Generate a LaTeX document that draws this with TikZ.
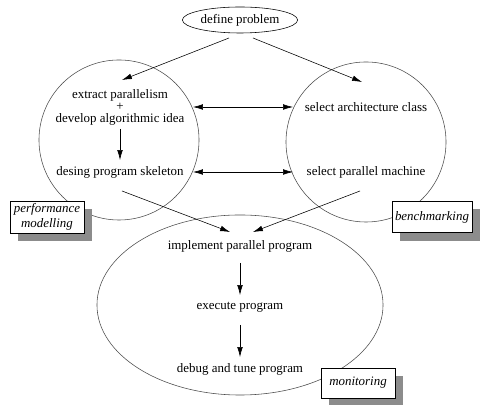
\documentclass[tikz,border=0pt]{standalone}
\usepackage{fontspec}
\setmainfont{Liberation Serif}
\usetikzlibrary{shapes,arrows.meta,positioning,calc,shadows}

\begin{document}
\begin{tikzpicture}[x=0.025cm, y=0.025cm, font=\fontsize{9.2}{11}\selectfont,
    arr/.style={-{Latex[length=7pt,width=4pt]}},
    dbl/.style={{Latex[length=7pt,width=4pt]}-{Latex[length=7pt,width=4pt]}},
    region/.style={draw=black!70, thin},
    tag/.style={draw, fill=white, inner sep=1pt, align=center, font=\fontsize{9.2}{10.5}\selectfont\itshape,
        drop shadow={shadow xshift=0.2cm, shadow yshift=-0.2cm, fill=black!45, opacity=1}}]
    \useasboundingbox (0,0) rectangle (480,405);

    % the three regions
    \node (design) [region, circle, minimum size=4cm] at (119,265) {};
    \node (machines) [region, circle, minimum size=4cm] at (366,263) {};
    \node (program) [region, ellipse, minimum width=7.15cm, minimum height=4.5cm] at (240,100) {};

    \node (define) [draw, ellipse, minimum width=2.5cm, minimum height=0.65cm, inner sep=1pt] at (240,385) {define problem};
    \node (extract) [align=center] at (120,298) {extract parallelism\\[-2.5pt]+\\[-2.5pt]develop algorithmic idea};
    \node (skeleton) at (120,233) {desing program skeleton};
    \node (arch) at (366,298) {select architecture class};
    \node (machine) at (366,233) {select parallel machine};
    \node (implement) at (240,159) {implement parallel program};
    \node (execute) at (240,98) {execute program};
    \node (debug) at (240,36) {debug and tune program};

    % labels
    \node (perf) [tag, minimum width=1.85cm, minimum height=0.8cm] at (47,188) {performance\\modelling};
    \node (bench) [tag, minimum width=2cm, minimum height=0.78cm] at (432,188) {benchmarking};
    \node (monitor) [tag, minimum width=1.85cm, minimum height=0.75cm] at (358,22) {monitoring};

    \draw [arr] ($(define)+(-11,-18)$) -- ($(extract)+(2,27)$);
    \draw [arr] ($(define)+(13,-18)$) -- ($(arch)+(-4,25)$);
    \draw [dbl] ($(extract)+(73,0)$) -- ($(arch)+(-73,0)$);
    \draw [dbl] ($(skeleton)+(73,0)$) -- ($(machine)+(-73,0)$);
    \draw [arr] ($(extract)+(0,-22)$) -- ($(skeleton)+(0,12)$);
    \draw [arr] ($(skeleton)+(2,-19)$) -- ($(implement)+(-10,14)$);
    \draw [arr] ($(machine)+(-6,-19)$) -- ($(implement)+(13,14)$);
    \draw [arr] ($(implement)+(0,-17)$) -- ($(execute)+(0,12)$);
    \draw [arr] ($(execute)+(0,-18)$) -- ($(debug)+(0,12)$);
\end{tikzpicture}
\end{document}
